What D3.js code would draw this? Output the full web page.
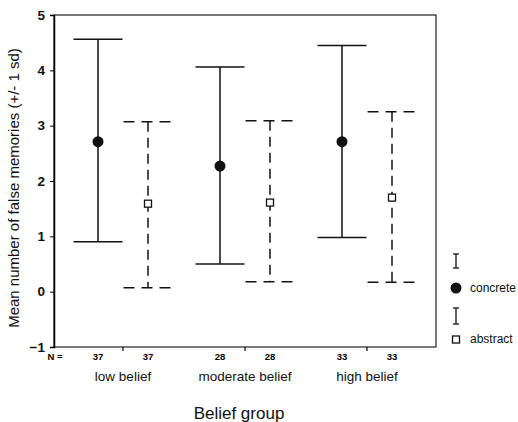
<!DOCTYPE html>
<html><head><meta charset="utf-8">
<script src="https://cdn.jsdelivr.net/npm/d3@7"></script>
<style>body{margin:0;background:#fff}svg{display:block;font-family:"Liberation Sans",Arial,sans-serif}</style>
</head><body><svg id="c" width="518" height="422"></svg>
<script>
const groups = ["low belief", "moderate belief", "high belief"];
const series = ["concrete", "abstract"];
const counts = [[37, 37], [28, 28], [33, 33]];
const means = [[2.71, 1.59], [2.27, 1.61], [2.71, 1.70]];
const upper = [[4.56, 3.07], [4.06, 3.09], [4.45, 3.25]];
const lower = [[0.90, 0.07], [0.50, 0.18], [0.98, 0.17]];
const yTicks = [-1, 0, 1, 2, 3, 4, 5];

const svg = d3.select("#c");
const L = 54, R = 436, T = 15, B = 347;
const y = d3.scaleLinear().domain([-1, 5]).range([B, T]);
const x0 = d3.scaleBand().domain(groups).range([62, 428]);
const x1 = d3.scalePoint().domain(series).range([0, x0.bandwidth()]).padding(0.72);
const capHalf = 24.5;

// frame
svg.append("rect").attr("x", L).attr("y", T).attr("width", R - L).attr("height", B - T)
  .attr("fill", "none").attr("stroke", "#222").attr("stroke-width", 1.2);

// y axis
const ya = svg.append("g").attr("transform", `translate(${L},0)`)
  .call(d3.axisLeft(y).tickValues(yTicks).tickSize(4).tickPadding(5).tickFormat(d3.format("d")));
ya.select(".domain").attr("stroke-width", 1.5);
ya.selectAll("text").attr("font-size", 13.5).attr("font-weight", "bold").attr("fill", "#111");

// x axis boundaries tick marks
const xa = svg.append("g").attr("transform", `translate(0,${B})`)
  .call(d3.axisBottom(x0).tickSize(4).tickFormat(""));
xa.select(".domain").remove();
xa.selectAll("line").attr("stroke-width", 1.2);

// group labels
svg.append("g").selectAll("text").data(groups).join("text")
  .attr("x", d => x0(d) + x0.bandwidth() / 2).attr("y", 381)
  .attr("text-anchor", "middle").attr("font-size", 13.5).attr("fill", "#111").text(d => d);

// N labels
svg.append("text").attr("x", 55).attr("y", 360).attr("text-anchor", "middle")
  .attr("font-size", 9.5).attr("font-weight", "bold").text("N =");
groups.forEach((g, gi) => {
  series.forEach((s, si) => {
    svg.append("text").attr("x", x0(g) + x1(s)).attr("y", 360).attr("text-anchor", "middle")
      .attr("font-size", 9.5).attr("font-weight", "bold").text(counts[gi][si]);
  });
});

// axis titles
svg.append("text").attr("x", 239).attr("y", 419).attr("text-anchor", "middle")
  .attr("font-size", 17).attr("fill", "#111").text("Belief group");
svg.append("text").attr("transform", "translate(19,188) rotate(-90)").attr("text-anchor", "middle")
  .attr("font-size", 15).attr("fill", "#111").text("Mean number of false memories (+/- 1 sd)");

// error bars
groups.forEach((g, gi) => {
  series.forEach((s, si) => {
    const cx = x0(g) + x1(s);
    const dashed = si === 1;
    const gg = svg.append("g").attr("stroke", "#111").attr("stroke-width", 1.5).attr("fill", "none");
    gg.append("line").attr("x1", cx).attr("x2", cx).attr("y1", y(upper[gi][si])).attr("y2", y(lower[gi][si]))
      .attr("stroke-dasharray", dashed ? "10,6" : null);
    [upper[gi][si], lower[gi][si]].forEach(v => {
      gg.append("line").attr("x1", cx - capHalf).attr("x2", cx + capHalf).attr("y1", y(v)).attr("y2", y(v))
        .attr("stroke-dasharray", dashed ? "11,7" : null);
    });
    if (dashed) {
      svg.append("rect").attr("x", cx - 3.5).attr("y", y(means[gi][si]) - 3.5).attr("width", 7).attr("height", 7)
        .attr("fill", "#fff").attr("stroke", "#111").attr("stroke-width", 1.3);
    } else {
      svg.append("circle").attr("cx", cx).attr("cy", y(means[gi][si])).attr("r", 5.5).attr("fill", "#111");
    }
  });
});

// legend
const lg = svg.append("g");
const ibeam = (cy, h) => {
  const gg = lg.append("g").attr("stroke", "#111").attr("stroke-width", 1.3);
  gg.append("line").attr("x1", 456).attr("x2", 456).attr("y1", cy - h).attr("y2", cy + h);
  gg.append("line").attr("x1", 453).attr("x2", 459).attr("y1", cy - h).attr("y2", cy - h);
  gg.append("line").attr("x1", 453).attr("x2", 459).attr("y1", cy + h).attr("y2", cy + h);
};
ibeam(261, 7);
lg.append("circle").attr("cx", 456).attr("cy", 288).attr("r", 5.5).attr("fill", "#111");
lg.append("text").attr("x", 470).attr("y", 292).attr("font-size", 12).attr("fill", "#111").text(series[0]);
ibeam(316, 8);
lg.append("rect").attr("x", 452.5).attr("y", 336).attr("width", 7).attr("height", 7)
  .attr("fill", "#fff").attr("stroke", "#111").attr("stroke-width", 1.3);
lg.append("text").attr("x", 470).attr("y", 343).attr("font-size", 12).attr("fill", "#111").text(series[1]);
</script></body></html>
